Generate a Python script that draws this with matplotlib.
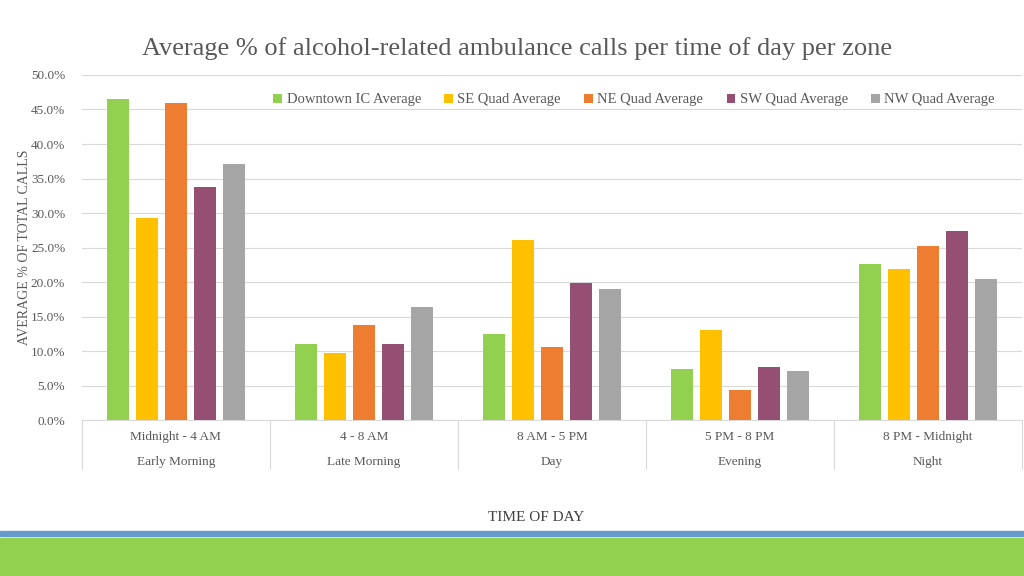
import numpy as np
import matplotlib
matplotlib.use("Agg")
import matplotlib.pyplot as plt
from matplotlib.patches import Rectangle
from matplotlib.ticker import PercentFormatter

plt.rcParams['font.family'] = ['Liberation Serif', 'DejaVu Serif']

# data (% of total calls)
periods = ["Midnight - 4 AM", "4 - 8 AM", "8 AM - 5 PM", "5 PM - 8 PM", "8 PM - Midnight"]
period_names = ["Early Morning", "Late Morning", "Day", "Evening", "Night"]
zones = ["Downtown IC Average", "SE Quad Average", "NE Quad Average",
         "SW Quad Average", "NW Quad Average"]
downtown = [46.5, 11.0, 12.5, 7.4, 22.6]
se_quad = [29.3, 9.7, 26.1, 13.0, 21.9]
ne_quad = [45.9, 13.8, 10.6, 4.3, 25.2]
sw_quad = [33.8, 11.0, 19.9, 7.7, 27.4]
nw_quad = [37.1, 16.4, 19.0, 7.1, 20.4]
colors = ["#92D050", "#FFC000", "#ED7D31", "#954F72", "#A5A5A5"]

series = [downtown, se_quad, ne_quad, sw_quad, nw_quad]
txt = "#595959"
grid = "#D9D9D9"

fig = plt.figure(figsize=(10.24, 5.76), dpi=100)
ax = fig.add_axes([0.080, 0.2708, 0.918, 0.599])

x = np.arange(len(periods))
step = 0.154
width = 0.118
for i, (vals, c, name) in enumerate(zip(series, colors, zones)):
    ax.bar(x + (i - 2) * step, vals, width, color=c, label=name, zorder=3)

ax.set_xlim(-0.5, len(periods) - 0.5)
ax.set_ylim(0, 50)
ax.set_yticks(np.arange(0, 50.1, 5))
ax.yaxis.set_major_formatter(PercentFormatter(decimals=1))
ax.grid(axis='y', color=grid, linewidth=0.8, zorder=0)
for s in ['top', 'right', 'left']:
    ax.spines[s].set_visible(False)
ax.spines['bottom'].set_color(grid)
ax.tick_params(axis='y', length=0, labelsize=9.5, labelcolor=txt, pad=12)

labels = [p + "\n\n" + n for p, n in zip(periods, period_names)]
ax.set_xticks(x)
ax.set_xticklabels(labels, fontsize=9.5, color=txt, linespacing=1.05)
ax.tick_params(axis='x', which='major', length=0, pad=8)
ax.set_xticks(np.arange(-0.5, len(periods)), minor=True)
ax.tick_params(axis='x', which='minor', length=35, color=grid, width=0.8)

ax.set_ylabel("AVERAGE % OF TOTAL CALLS", fontsize=10, color=txt)
ax.yaxis.set_label_coords(-0.054, 0.5)
fig.text(0.524, 0.095, "TIME OF DAY", fontsize=11, color="#404040", ha='center')

fig.text(0.505, 0.915, "Average % of alcohol-related ambulance calls per time of day per zone",
         fontsize=19, color=txt, ha='center', va='center')

ax.legend(loc='upper right', bbox_to_anchor=(0.985, 0.985), ncol=5, frameon=False,
          fontsize=10.5, labelcolor=txt, handlelength=0.6, handleheight=0.6,
          handletextpad=0.3, columnspacing=1.6)

# bottom decorative bands
fig.patches.append(Rectangle((0, 0), 1, 0.066, transform=fig.transFigure,
                             color="#92D050", zorder=0))
fig.patches.append(Rectangle((0, 0.0695), 1, 0.0085, transform=fig.transFigure,
                             color="#6699CC", zorder=0))

fig.savefig("out.png", dpi=100)
